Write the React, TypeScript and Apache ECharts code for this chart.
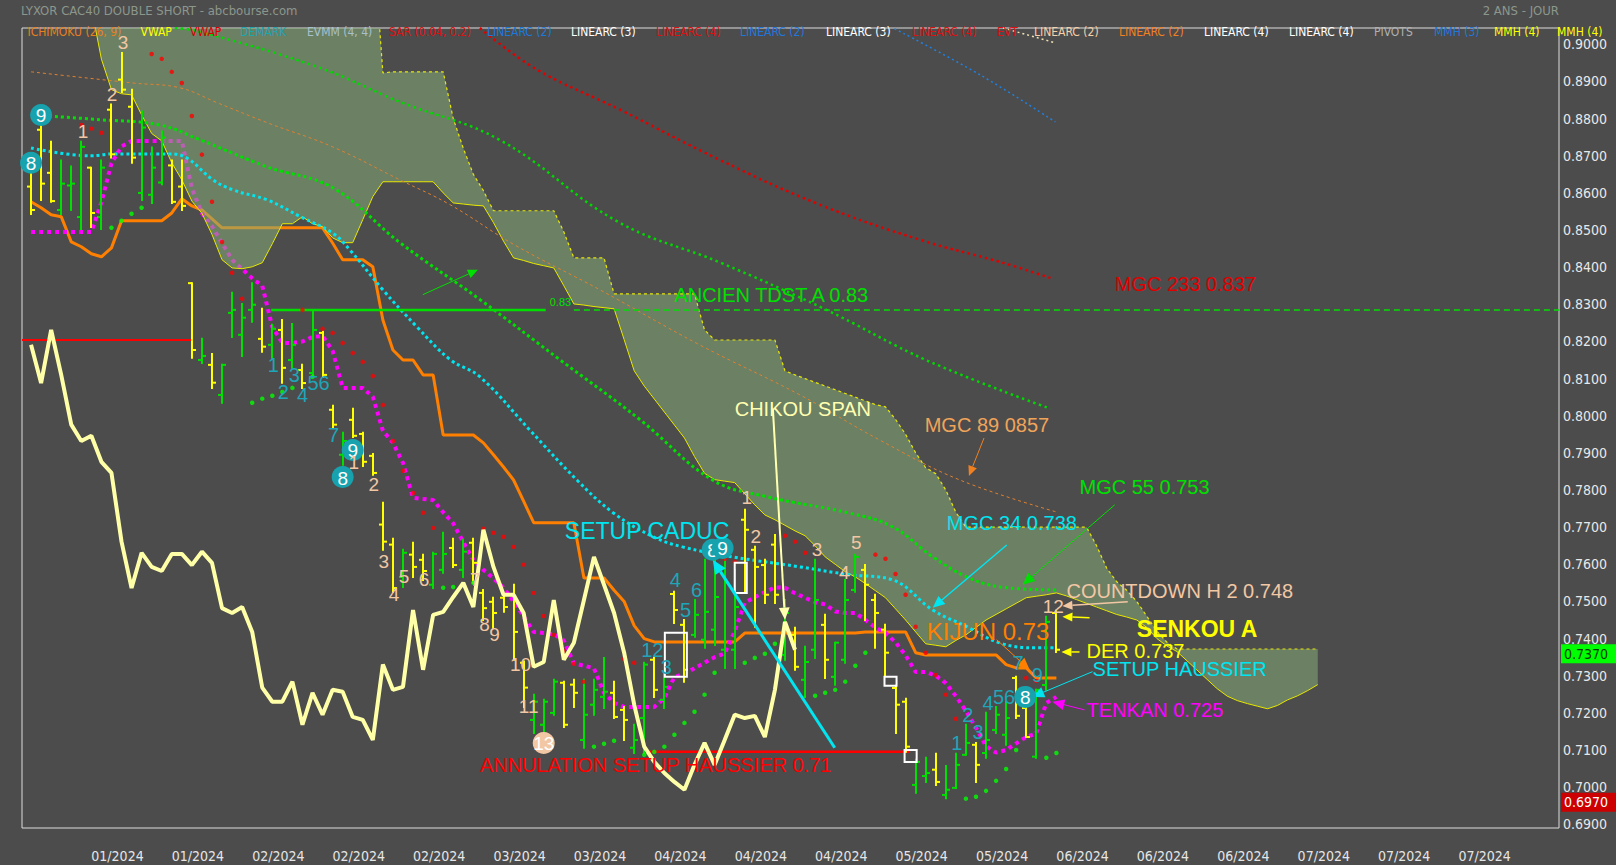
import React, { useEffect, useRef } from "react";
import * as echarts from "echarts";

const BG = "#4c4c4c";
const FONT = "'Liberation Sans', Arial, Helvetica, sans-serif";
const NARROW = "'Liberation Sans Narrow', 'Arial Narrow', 'DejaVu Sans Condensed', sans-serif";
const GREEN = "#00e000";
const YELLOW = "#ffff00";

// ---------- axis labels ----------
const xTickLabels = ["01/2024","01/2024","02/2024","02/2024","02/2024","03/2024","03/2024","04/2024","04/2024","04/2024","05/2024","05/2024","06/2024","06/2024","06/2024","07/2024","07/2024","07/2024"];
const yTickValues = [0.69,0.70,0.71,0.72,0.73,0.74,0.75,0.76,0.77,0.78,0.79,0.80,0.81,0.82,0.83,0.84,0.85,0.86,0.87,0.88,0.89,0.90];

// ---------- daily bars ----------
const opens = [0.8617,0.8770,0.8654,0.8554,0.8620,0.8535,0.8668,0.8535,0.8824,0.8905,0.8832,0.8600,0.8595,0.8628,0.8674,0.8617,0.8357,0.8150,0.8137,0.8056,0.8277,0.8218,0.8285,0.8207,0.8191,0.8231,0.8150,0.8123,0.8115,0.8223,0.8016,0.7895,0.7989,0.7951,0.7892,0.7707,0.7653,0.7566,0.7626,0.7612,0.7545,0.7585,0.7644,0.7585,0.7658,0.7523,0.7499,0.7510,0.7518,0.7335,0.7181,0.7168,0.7200,0.7281,0.7276,0.7127,0.7222,0.7243,0.7254,0.7208,0.7106,0.7186,0.7343,0.7235,0.7520,0.7437,0.7410,0.7397,0.7424,0.7370,0.7370,0.7720,0.7639,0.7598,0.7653,0.7356,0.7410,0.7289,0.7370,0.7437,0.7297,0.7343,0.7531,0.7585,0.7504,0.7424,0.7267,0.7230,0.7006,0.7030,0.7047,0.6979,0.6998,0.7087,0.7114,0.7092,0.7154,0.7141,0.7294,0.7213,0.7082,0.7275,0.7469];
const highs = [0.8676,0.8784,0.8738,0.8687,0.8671,0.8738,0.8668,0.8687,0.8838,0.8977,0.8878,0.8819,0.8722,0.8765,0.8687,0.8687,0.8357,0.8207,0.8166,0.8137,0.8331,0.8301,0.8357,0.8288,0.8245,0.8258,0.8247,0.8137,0.8285,0.8226,0.8027,0.7954,0.8019,0.7954,0.7897,0.7766,0.7669,0.7639,0.7658,0.7626,0.7631,0.7685,0.7669,0.7666,0.7669,0.7531,0.7510,0.7518,0.7545,0.7338,0.7249,0.7235,0.7289,0.7284,0.7289,0.7289,0.7289,0.7348,0.7284,0.7216,0.7168,0.7335,0.7348,0.7311,0.7526,0.7450,0.7504,0.7612,0.7612,0.7620,0.7585,0.7747,0.7647,0.7612,0.7679,0.7504,0.7429,0.7378,0.7612,0.7464,0.7389,0.7558,0.7626,0.7598,0.7518,0.7437,0.7273,0.7238,0.7074,0.7079,0.7090,0.7057,0.7090,0.7168,0.7119,0.7200,0.7216,0.7230,0.7297,0.7216,0.7262,0.7459,0.7475];
const lows = [0.8543,0.8581,0.8576,0.8543,0.8554,0.8503,0.8508,0.8503,0.8695,0.8872,0.8681,0.8581,0.8573,0.8623,0.8573,0.8554,0.8156,0.8142,0.8075,0.8035,0.8212,0.8161,0.8253,0.8172,0.8156,0.8089,0.8129,0.8075,0.8104,0.8104,0.7970,0.7868,0.7943,0.7865,0.7841,0.7639,0.7526,0.7539,0.7566,0.7558,0.7536,0.7577,0.7593,0.7566,0.7550,0.7450,0.7429,0.7472,0.7343,0.7216,0.7146,0.7141,0.7195,0.7162,0.7216,0.7106,0.7195,0.7213,0.7186,0.7127,0.7092,0.7092,0.7243,0.7213,0.7442,0.7284,0.7405,0.7375,0.7383,0.7321,0.7321,0.7523,0.7432,0.7496,0.7496,0.7343,0.7316,0.7243,0.7348,0.7294,0.7276,0.7335,0.7526,0.7450,0.7375,0.7302,0.7146,0.7095,0.6985,0.7014,0.7006,0.6970,0.6998,0.7087,0.7014,0.7079,0.7146,0.7114,0.7186,0.7135,0.7079,0.7262,0.7364];
const closes = [0.8554,0.8625,0.8578,0.8625,0.8625,0.8724,0.8546,0.8668,0.8704,0.8878,0.8695,0.8776,0.8668,0.8749,0.8576,0.8565,0.8177,0.8161,0.8089,0.8137,0.8285,0.8264,0.8299,0.8186,0.8234,0.8129,0.8191,0.8088,0.8231,0.8110,0.7976,0.7932,0.7946,0.7876,0.7846,0.7661,0.7536,0.7631,0.7593,0.7582,0.7628,0.7628,0.7598,0.7634,0.7604,0.7482,0.7469,0.7485,0.7418,0.7268,0.7230,0.7230,0.7284,0.7168,0.7254,0.7195,0.7262,0.7257,0.7189,0.7181,0.7127,0.7330,0.7262,0.7270,0.7477,0.7316,0.7464,0.7472,0.7512,0.7550,0.7485,0.7693,0.7593,0.7518,0.7518,0.7469,0.7324,0.7337,0.7504,0.7343,0.7389,0.7504,0.7620,0.7545,0.7469,0.7362,0.7222,0.7109,0.7068,0.7038,0.7014,0.6993,0.7060,0.7119,0.7060,0.7127,0.7195,0.7186,0.7192,0.7135,0.7262,0.7445,0.7370];

// ---------- ichimoku ----------
const kijun = [0.8576,0.8560,0.8541,0.8536,0.8468,0.8455,0.8436,0.8428,0.8452,0.8525,0.8525,0.8525,0.8525,0.8525,0.8546,0.8584,0.8565,0.8554,0.8530,0.8506,0.8506,0.8506,0.8506,0.8506,0.8506,0.8506,0.8506,0.8506,0.8506,0.8506,0.8465,0.8420,0.8420,0.8420,0.8401,0.8258,0.8177,0.8150,0.8150,0.8110,0.8110,0.7948,0.7948,0.7948,0.7948,0.7927,0.7895,0.7862,0.7827,0.7770,0.7712,0.7712,0.7712,0.7712,0.7712,0.7563,0.7563,0.7563,0.7530,0.7500,0.7435,0.7400,0.7391,0.7391,0.7391,0.7391,0.7391,0.7391,0.7391,0.7391,0.7391,0.7415,0.7415,0.7415,0.7415,0.7415,0.7415,0.7415,0.7415,0.7415,0.7415,0.7415,0.7415,0.7418,0.7418,0.7418,0.7418,0.7418,0.7362,0.7356,0.7356,0.7356,0.7356,0.7356,0.7356,0.7356,0.7356,0.7330,0.7321,0.7321,0.7294,0.7294,0.7294];
const tenkan = [0.8495,0.8495,0.8495,0.8495,0.8495,0.8495,0.8495,0.8575,0.8680,0.8725,0.8740,0.8740,0.8740,0.8740,0.8740,0.8740,0.8612,0.8545,0.8510,0.8465,0.8420,0.8395,0.8370,0.8350,0.8239,0.8196,0.8196,0.8200,0.8212,0.8215,0.8175,0.8075,0.8075,0.8075,0.8051,0.7960,0.7927,0.7873,0.7779,0.7776,0.7773,0.7740,0.7710,0.7660,0.7612,0.7585,0.7562,0.7537,0.7500,0.7460,0.7418,0.7415,0.7412,0.7395,0.7333,0.7327,0.7320,0.7254,0.7227,0.7216,0.7216,0.7216,0.7216,0.7240,0.7297,0.7305,0.7320,0.7335,0.7350,0.7360,0.7420,0.7496,0.7512,0.7525,0.7538,0.7537,0.7522,0.7510,0.7498,0.7492,0.7473,0.7469,0.7469,0.7450,0.7430,0.7415,0.7390,0.7355,0.7310,0.7310,0.7300,0.7280,0.7245,0.7205,0.7160,0.7110,0.7093,0.7100,0.7118,0.7135,0.7145,0.7227,0.7243];
const cloudStart = 6;
const senkouA = [0.9100,0.8960,0.8878,0.8867,0.8864,0.8810,0.8760,0.8740,0.8681,0.8635,0.8578,0.8545,0.8488,0.8420,0.8398,0.8396,0.8401,0.8412,0.8463,0.8517,0.8517,0.8536,0.8517,0.8509,0.8479,0.8466,0.8466,0.8528,0.8590,0.8630,0.8630,0.8630,0.8630,0.8630,0.8630,0.8600,0.8573,0.8570,0.8567,0.8565,0.8520,0.8470,0.8425,0.8418,0.8410,0.8404,0.8398,0.8350,0.8301,0.8298,0.8294,0.8291,0.8288,0.8205,0.8121,0.8080,0.8045,0.8010,0.7975,0.7940,0.7890,0.7845,0.7828,0.7824,0.7820,0.7790,0.7760,0.7733,0.7720,0.7705,0.7690,0.7677,0.7650,0.7620,0.7600,0.7580,0.7566,0.7548,0.7529,0.7510,0.7480,0.7450,0.7418,0.7386,0.7382,0.7378,0.7395,0.7410,0.7430,0.7450,0.7465,0.7480,0.7495,0.7510,0.7514,0.7518,0.7523,0.7515,0.7505,0.7495,0.7485,0.7475,0.7465,0.7458,0.7450,0.7430,0.7400,0.7380,0.7365,0.7340,0.7315,0.7290,0.7265,0.7245,0.7233,0.7225,0.7218,0.7211,0.7220,0.7235,0.7246,0.7260,0.7276];
const senkouB = [0.9300,0.9300,0.9300,0.9300,0.9300,0.9300,0.9300,0.9300,0.9300,0.9300,0.9300,0.9300,0.9300,0.9300,0.9300,0.9300,0.9300,0.9300,0.9300,0.9300,0.9300,0.9300,0.9300,0.9300,0.9300,0.9300,0.9300,0.9300,0.9300,0.8923,0.8926,0.8926,0.8926,0.8926,0.8926,0.8926,0.8800,0.8720,0.8650,0.8606,0.8552,0.8552,0.8552,0.8552,0.8552,0.8552,0.8552,0.8495,0.8425,0.8425,0.8425,0.8425,0.8328,0.8328,0.8328,0.8328,0.8328,0.8328,0.8328,0.8328,0.8328,0.8231,0.8204,0.8204,0.8204,0.8204,0.8204,0.8204,0.8204,0.8121,0.8110,0.8100,0.8090,0.8080,0.8070,0.8060,0.8050,0.8040,0.8030,0.8024,0.7990,0.7950,0.7900,0.7860,0.7844,0.7800,0.7740,0.7700,0.7700,0.7700,0.7700,0.7700,0.7700,0.7700,0.7700,0.7700,0.7700,0.7700,0.7700,0.7700,0.7650,0.7590,0.7553,0.7530,0.7500,0.7460,0.7420,0.7390,0.7372,0.7372,0.7372,0.7372,0.7372,0.7372,0.7372,0.7372,0.7372,0.7372,0.7372,0.7372,0.7372,0.7372,0.7372];
const chikouShift = 26;

// ---------- parabolic SAR ----------
const sarAbove = [[5,0.8783],[6,0.8773],[7,0.8762],[12,0.8974],[13,0.8961],[14,0.8926],[15,0.8896],[16,0.8807],[17,0.8703],[18,0.8576],[19,0.8468],[20,0.8385],[21,0.8315],[27,0.8285],[29,0.8234],[30,0.8223],[31,0.8196],[32,0.8169],[33,0.8145],[34,0.8107],[35,0.8029],[36,0.7932],[37,0.7852],[38,0.7792],[39,0.7739],[40,0.7698],[45,0.7696],[46,0.7685],[47,0.7674],[48,0.7647],[49,0.7599],[50,0.7523],[51,0.7461],[52,0.7410],[53,0.7367],[54,0.7332],[55,0.7284],[59,0.7345],[60,0.7335],[69,0.7615],[70,0.7607],[75,0.7677],[76,0.7661],[77,0.7631],[84,0.7626],[85,0.7615],[86,0.7574],[87,0.7518],[88,0.7432],[89,0.7362],[90,0.7302],[91,0.7249],[92,0.7184],[99,0.7294],[100,0.7286]];
const sarBelow = [[8,0.8506],[9,0.8525],[10,0.8544],[11,0.8560],[22,0.8035],[23,0.8046],[24,0.8054],[25,0.8064],[26,0.8075],[28,0.8105],[41,0.7537],[42,0.7539],[43,0.7545],[44,0.7550],[56,0.7109],[57,0.7117],[58,0.7125],[61,0.7087],[62,0.7095],[63,0.7109],[64,0.7141],[65,0.7173],[66,0.7203],[67,0.7249],[68,0.7308],[71,0.7335],[72,0.7348],[73,0.7359],[74,0.7386],[78,0.7246],[79,0.7254],[80,0.7262],[81,0.7284],[82,0.7327],[83,0.7362],[93,0.6969],[94,0.6974],[95,0.6990],[96,0.7017],[97,0.7049],[98,0.7100],[101,0.7079],[102,0.7092]];

// ---------- moving averages (MGC), read at points ----------
const mgc233 = [[44.65,0.9044],[50.2,0.8934],[58.6,0.8824],[68.5,0.8689],[78.5,0.8568],[88.4,0.8474],[96.4,0.8414],[101.4,0.8371]];
const mgc144 = [[14.3,0.9044],[16.5,0.9036],[28.5,0.8939],[36.7,0.8845],[46.6,0.8743],[58.4,0.8522],[68.6,0.8412],[78.9,0.8288],[89.2,0.8148],[101.4,0.8019]];
const mgc89 = [[0,0.8926],[10.1,0.8896],[14.8,0.8883],[18.5,0.8843],[23.5,0.8789],[30.0,0.8724],[36.7,0.8635],[41.7,0.8568],[48.1,0.8460],[56.6,0.8339],[66.5,0.8191],[76.5,0.8056],[84.4,0.7935],[92.4,0.7827],[102,0.7741]];
const mgc55 = [[0,0.8810],[6.9,0.8797],[12.8,0.8783],[16.8,0.8743],[23.5,0.8670],[30.0,0.8614],[36.7,0.8466],[44.7,0.8312],[52.6,0.8151],[60.6,0.7989],[67.8,0.7827],[73.2,0.7782],[81.4,0.7738],[85.7,0.7701],[89.7,0.7620],[93.1,0.7566],[96.4,0.7539],[102,0.7531]];
const mgc34 = [[0,0.8721],[5.9,0.8700],[8.2,0.8705],[13.8,0.8705],[15.5,0.8694],[18.1,0.8635],[20.1,0.8608],[23.5,0.8581],[26.8,0.8536],[30.0,0.8492],[31.7,0.8447],[35.0,0.8339],[38.4,0.8239],[41.7,0.8151],[44.65,0.8105],[49.6,0.7962],[54.3,0.7827],[57.9,0.7739],[61.9,0.7674],[64.8,0.7647],[69.8,0.7620],[76.5,0.7593],[81.4,0.7572],[85.7,0.7558],[89.7,0.7477],[93.1,0.7432],[96.4,0.7388],[100,0.7375],[102,0.7375]];
const linearc2 = [[85.9,0.9042],[94.4,0.8918],[101.9,0.8791]];
const linearc2b = [[96.7,0.9044],[101.9,0.9004]];

// ---------- horizontal levels ----------
const oldLevel = { from: -0.9, to: 16, value: 0.8204 };
const tdstA = { from: 23.9, solidTo: 51.2, dashFrom: 54, to: 152, value: 0.8285 };
const cancelLevel = { from: 61.05, to: 87.4, value: 0.7095 };

// ---------- annotations ----------
const peachCounts = [[9.15,0.9004,"3"],[8.05,0.8864,"2"],[5.17,0.8764,"1"],[32.1,0.7873,"1"],[34.1,0.7814,"2"],[35.1,0.7607,"3"],[36.1,0.7518,"4"],[37.1,0.7566,"5"],[39.1,0.7558,"6"],[44.2,0.7558,"7"],[45.1,0.7437,"8"],[46.1,0.7410,"9"],[48.7,0.7329,"10"],[49.5,0.7216,"11"],[71.2,0.7779,"1"],[72.1,0.7674,"2"],[78.2,0.7639,"3"],[80.9,0.7577,"4"],[82.1,0.7658,"5"],[101.7,0.7486,"12"]];
const tealCounts = [[24.1,0.8137,"1"],[25.1,0.8064,"2"],[26.2,0.8110,"3"],[27.0,0.8056,"4"],[28.6,0.8089,"56"],[30.1,0.7949,"7"],[61.8,0.7370,"12"],[63.2,0.7324,"3"],[64.1,0.7558,"4"],[65.1,0.7477,"5"],[66.2,0.7531,"6"],[92.1,0.7119,"1"],[93.2,0.7195,"2"],[94.2,0.7149,"3"],[95.2,0.7227,"4"],[96.8,0.7243,"56"],[98.2,0.7335,"7"],[100.1,0.7302,"9"]];
const circles = [[1.0,0.8810,"9","#17a2ad"],[0,0.8681,"8","#17a2ad"],[32.0,0.7908,"9","#17a2ad"],[31.0,0.7835,"8","#17a2ad"],[67.8,0.7639,"8","#17a2ad"],[68.8,0.7644,"9","#17a2ad"],[98.9,0.7243,"8","#17a2ad"],[51.0,0.7119,"13","#f2c7a4"]];
const boxes = [[63.05,65.24,0.7416,0.7297],[70.0,71.2,0.7604,0.7523],[84.9,86.1,0.7297,0.7273],[86.9,88.1,0.7100,0.7068]];
const labels = [
  ["SETUP CADUC",53.1,0.7690,"#00e5f0",23,false],
  ["ANCIEN TDST A 0.83",64.0,0.8326,"#00e000",20,false],
  ["MGC 233 0.837",107.8,0.8355,"#e00000",20,false],
  ["CHIKOU SPAN",70.0,0.8019,"#ffffb0",20,false],
  ["MGC 89 0857",88.9,0.7976,"#f0a45a",20,false],
  ["MGC 55 0.753",104.3,0.7809,"#00e000",20,false],
  ["MGC 34 0.738",91.1,0.7712,"#00e5f0",20,false],
  ["COUNTDOWN H 2 0.748",103.0,0.7529,"#f2c7a4",20,false],
  ["SENKOU A",110.0,0.7426,"#ffff00",23,true],
  ["KIJUN 0.73",89.1,0.7418,"#ff8000",24,false],
  ["DER 0.737",105.0,0.7367,"#ffff00",20,false],
  ["SETUP HAUSSIER",105.6,0.7319,"#00e5f0",20,false],
  ["TENKAN 0.725",105.0,0.7208,"#ff00ff",20,false],
  ["ANNULATION SETUP HAUSSIER 0.71",44.65,0.7060,"#ff0000",20,false],
  ["0.83",51.6,0.8307,"#00e000",11,false]
];
const arrows = [
  [38.98,0.8326,44.45,0.8393,"#00e000",1,10],
  [79.95,0.7106,67.82,0.7612,"#00e5f0",3,14],
  [73.8,0.8017,75.0,0.7451,"#ffffb0",2,12],
  [94.8,0.7940,93.3,0.7838,"#f08020",1,10],
  [97.06,0.7652,89.7,0.7483,"#00e5f0",1.5,12],
  [107.8,0.7760,98.65,0.7545,"#00e000",1,12],
  [109.1,0.7499,102.6,0.7488,"#f2c7a4",1.5,10],
  [105.3,0.7456,102.6,0.7459,"#ffff00",1.5,10],
  [104.3,0.7364,102.5,0.7364,"#ffff00",1.5,10],
  [96.06,0.7397,99.34,0.7316,"#ff8000",1,12],
  [105.6,0.7311,99.6,0.7243,"#00e5f0",1,12],
  [104.8,0.7208,101.6,0.7230,"#ff00ff",1,12]
];
const priceTags = [[0.7370,"#00ff00","#0a3a0a"],[0.6970,"#cc0000","#ffffff"]];

// ---------- header / legend ----------
const title = "LYXOR CAC40 DOUBLE SHORT - abcbourse.com";
const period = "2 ANS - JOUR";
const legendItems = [
  ["ICHIMOKU (26, 9)","#e8801e",27.5],["VWAP","#ffff00",140.5],["VWAP","#dd0000",190],["DEMARK","#1fa5b0",240],["EVMM (4, 4)","#a8c0cc",307],["SAR (0.04, 0.2)","#dd1111",389],["LINEARC (2)","#1e78dc",487],["LINEARC (3)","#ffffff",571],["LINEARC (4)","#dd1111",656],["LINEARC (2)","#1e78dc",740],["LINEARC (3)","#ffffff",826],["LINEARC (4)","#dd1111",912],["EVT","#dd1111",997],["LINEARC (2)","#f5d0a8",1034],["LINEARC (2)","#f08020",1119],["LINEARC (4)","#ffffff",1204],["LINEARC (4)","#ffffff",1289],["PIVOTS","#b0b0b0",1374],["MMH (3)","#1e78dc",1434],["MMH (4)","#ffff00",1494],["MMH (4)","#ffff00",1557]
];

const X_MIN = -0.9, X_MAX = 152, Y_MIN = 0.689, Y_MAX = 0.9044;
const xLabelStart = 8.6, xLabelStep = 8;

function arrowChildren(p1: number[], p2: number[], color: string, width: number, head: number) {
  const dx = p2[0] - p1[0], dy = p2[1] - p1[1];
  const len = Math.hypot(dx, dy) || 1;
  const ux = dx / len, uy = dy / len;
  const hw = head * 0.45;
  const bx = p2[0] - ux * head, by = p2[1] - uy * head;
  return [
    { type: "line", shape: { x1: p1[0], y1: p1[1], x2: bx, y2: by }, style: { stroke: color, lineWidth: width } },
    { type: "polygon", shape: { points: [[p2[0], p2[1]], [bx - uy * hw, by + ux * hw], [bx + uy * hw, by - ux * hw]] }, style: { fill: color } }
  ];
}

function lineSeries(data: number[][], color: string, width: number, type: any, z: number, smooth = 0) {
  return {
    type: "line", data, showSymbol: false, silent: true, z, smooth,
    lineStyle: { color, width, type, cap: "butt" }
  };
}

function buildOption() {
  const ohlc = opens.map((o, i) => [i, o, highs[i], lows[i], closes[i]]);
  const chikou = closes.slice(chikouShift).map((c, k) => [k, c]);
  const cloudA = senkouA.map((v, k) => [cloudStart + k, v]);
  const cloudB = senkouB.map((v, k) => [cloudStart + k, v]);

  const series: any[] = [
    lineSeries(kijun.map((v, i) => [i, v]), "#ff8000", 3, "solid", 1),
    lineSeries(tenkan.map((v, i) => [i, v]), "#ff00ff", 4, [4, 4], 1),
    {
      type: "custom", clip: true, z: 2, silent: true,
      data: cloudA.map((p, k) => [p[0], p[1], senkouB[k]]),
      encode: { x: 0, y: 1 },
      renderItem: (params: any, api: any) => {
        if (params.dataIndex !== 0) return null;
        const pa = cloudA.map((p) => api.coord(p));
        const pb = cloudB.map((p) => api.coord(p)).reverse();
        return { type: "polygon", shape: { points: pa.concat(pb) }, style: { fill: "rgba(135,172,120,0.55)" } };
      }
    },
    lineSeries(cloudA, "#e8e800", 1, "solid", 3),
    lineSeries(cloudB, "#e8e800", 1.2, [3, 3], 3),
    lineSeries(mgc233, "#e00000", 2.5, [2.5, 3.5], 4, 0.4),
    lineSeries(mgc144, "#00d800", 2.5, [2.5, 3.5], 4, 0.4),
    lineSeries(mgc89, "#e08030", 1, [3, 3], 4, 0.4),
    lineSeries(mgc55, "#00e000", 3, [3, 3], 4, 0.4),
    lineSeries(mgc34, "#00e5f0", 3, [3, 3], 4, 0.4),
    lineSeries(linearc2, "#2080e0", 1.5, [2, 3], 4, 0.4),
    lineSeries(linearc2b, "#f0e0b0", 1.5, [2, 3], 4),
    lineSeries([[oldLevel.from, oldLevel.value], [oldLevel.to, oldLevel.value]], "#ff0000", 2, "solid", 5),
    lineSeries([[tdstA.from, tdstA.value], [tdstA.solidTo, tdstA.value]], "#00e000", 2.5, "solid", 5),
    lineSeries([[tdstA.dashFrom, tdstA.value], [tdstA.to, tdstA.value]], "#00e000", 1.5, [6, 4], 5),
    lineSeries([[cancelLevel.from, cancelLevel.value], [cancelLevel.to, cancelLevel.value]], "#ff0000", 2.5, "solid", 5),
    {
      type: "custom", z: 6, silent: true, clip: true,
      data: ohlc,
      encode: { x: 0, y: [1, 2, 3, 4] },
      renderItem: (params: any, api: any) => {
        const i = api.value(0), o = api.value(1), h = api.value(2), l = api.value(3), c = api.value(4);
        const pH = api.coord([i, h]), pL = api.coord([i, l]), pO = api.coord([i, o]), pC = api.coord([i, c]);
        const color = c >= o ? GREEN : YELLOW;
        const x = Math.round(pH[0]);
        return {
          type: "group",
          children: [
            { type: "line", shape: { x1: x, y1: pH[1] - 1, x2: x, y2: pL[1] + 1 }, style: { stroke: color, lineWidth: 2 } },
            { type: "line", shape: { x1: x - 4, y1: pO[1], x2: x, y2: pO[1] }, style: { stroke: color, lineWidth: 2 } },
            { type: "line", shape: { x1: x, y1: pC[1], x2: x + 4, y2: pC[1] }, style: { stroke: color, lineWidth: 2 } }
          ]
        };
      }
    },
    { type: "scatter", data: sarAbove, symbol: "circle", symbolSize: 4.5, itemStyle: { color: "#ff0000" }, z: 7, silent: true },
    { type: "scatter", data: sarBelow, symbol: "circle", symbolSize: 4.5, itemStyle: { color: "#00ff00" }, z: 7, silent: true },
    lineSeries(chikou, "#ffffa8", 4, "solid", 8),
    {
      type: "custom", z: 9, silent: true, clip: false,
      data: boxes.map((b) => [b[0], b[2]]),
      encode: { x: 0, y: 1 },
      renderItem: (params: any, api: any) => {
        const b = boxes[params.dataIndex];
        const p1 = api.coord([b[0], b[2]]), p2 = api.coord([b[1], b[3]]);
        return { type: "rect", shape: { x: p1[0], y: p1[1], width: p2[0] - p1[0], height: p2[1] - p1[1] }, style: { fill: "none", stroke: "#ffffff", lineWidth: 2 } };
      }
    },
    {
      type: "custom", z: 10, silent: true, clip: false,
      data: arrows.map((a) => [a[0], a[1]]),
      encode: { x: 0, y: 1 },
      renderItem: (params: any, api: any) => {
        const a: any = arrows[params.dataIndex];
        const p1 = api.coord([a[0], a[1]]), p2 = api.coord([a[2], a[3]]);
        return { type: "group", children: arrowChildren(p1, p2, a[4], a[5], a[6]) };
      }
    },
    {
      type: "custom", z: 11, silent: true, clip: false,
      data: circles.map((c) => [c[0], c[1]]),
      encode: { x: 0, y: 1 },
      renderItem: (params: any, api: any) => {
        const c: any = circles[params.dataIndex];
        const p = api.coord([c[0], c[1]]);
        return {
          type: "group",
          children: [
            { type: "circle", shape: { cx: p[0], cy: p[1], r: 11 }, style: { fill: c[3] } },
            { type: "text", x: p[0], y: p[1] + 1, style: { text: c[2], fill: "#ffffff", fontSize: 19, fontFamily: FONT, align: "center", verticalAlign: "middle" } }
          ]
        };
      }
    },
    {
      type: "custom", z: 11, silent: true, clip: false,
      data: peachCounts.map((c) => [c[0], c[1]]),
      encode: { x: 0, y: 1 },
      renderItem: (params: any, api: any) => {
        const c: any = peachCounts[params.dataIndex];
        const p = api.coord([c[0], c[1]]);
        return { type: "text", x: p[0], y: p[1], style: { text: c[2], fill: "#f2c7a4", fontSize: 19, fontFamily: FONT, align: "center", verticalAlign: "middle" } };
      }
    },
    {
      type: "custom", z: 11, silent: true, clip: false,
      data: tealCounts.map((c) => [c[0], c[1]]),
      encode: { x: 0, y: 1 },
      renderItem: (params: any, api: any) => {
        const c: any = tealCounts[params.dataIndex];
        const p = api.coord([c[0], c[1]]);
        return { type: "text", x: p[0], y: p[1], style: { text: c[2], fill: "#1fa5b8", fontSize: 20, fontFamily: FONT, align: "center", verticalAlign: "middle" } };
      }
    },
    {
      type: "custom", z: 12, silent: true, clip: false,
      data: labels.map((l: any) => [l[1], l[2]]),
      encode: { x: 0, y: 1 },
      renderItem: (params: any, api: any) => {
        const l: any = labels[params.dataIndex];
        const p = api.coord([l[1], l[2]]);
        return { type: "text", x: p[0], y: p[1], style: { text: l[0], fill: l[3], fontSize: l[4], fontWeight: l[5] ? "bold" : "normal", fontFamily: FONT, align: "left", verticalAlign: "middle" } };
      }
    },
    {
      type: "custom", z: 12, silent: true, clip: false,
      data: priceTags.map((t: any) => [X_MAX, t[0]]),
      encode: { x: 0, y: 1 },
      renderItem: (params: any, api: any) => {
        const t: any = priceTags[params.dataIndex];
        const p = api.coord([X_MAX, t[0]]);
        const cy = p[1] + 4;
        return {
          type: "group",
          children: [
            { type: "rect", shape: { x: p[0] + 2, y: cy - 9.5, width: 60, height: 19 }, style: { fill: t[1] } },
            { type: "text", x: p[0] + 5, y: cy, style: { text: t[0].toFixed(4), fill: t[2], fontSize: 14, fontFamily: NARROW, align: "left", verticalAlign: "middle" } }
          ]
        };
      }
    }
  ];

  const graphic: any[] = [
    { type: "text", x: 21, y: 10, z: 20, style: { text: title, fill: "#8c978c", fontSize: 13, fontFamily: NARROW, verticalAlign: "middle" } },
    { type: "text", x: 1559, y: 10, z: 20, style: { text: period, fill: "#8c978c", fontSize: 13, fontFamily: NARROW, align: "right", verticalAlign: "middle" } }
  ];
  legendItems.forEach((it: any) => {
    graphic.push({ type: "text", x: it[2], y: 32, z: 20, style: { text: it[0], fill: it[1], fontSize: 12, fontFamily: NARROW, verticalAlign: "middle" } });
  });

  return {
    animation: false,
    backgroundColor: BG,
    grid: { left: 22, top: 28, width: 1537, height: 800, show: true, borderColor: "#dcdcdc", borderWidth: 1, backgroundColor: "transparent", containLabel: false },
    xAxis: {
      type: "value", min: X_MIN, max: X_MAX,
      splitLine: { show: false }, axisLine: { show: false }, axisTick: { show: false },
      axisLabel: {
        customValues: xTickLabels.map((_, k) => xLabelStart + xLabelStep * k),
        formatter: (v: number) => xTickLabels[Math.round((v - xLabelStart) / xLabelStep)] || "",
        color: "#e6e6e6", fontSize: 14, fontFamily: NARROW, margin: 21
      }
    },
    yAxis: {
      type: "value", position: "right", min: Y_MIN, max: Y_MAX, scale: true,
      splitLine: { show: false }, axisLine: { show: false }, axisTick: { show: false },
      axisLabel: {
        customValues: yTickValues,
        formatter: (v: number) => v.toFixed(4),
        color: "#e8e8e8", fontSize: 14, fontFamily: NARROW, margin: 4, align: "left"
      }
    },
    graphic,
    series
  };
}

export default function App() {
  const ref = useRef<HTMLDivElement>(null);
  useEffect(() => {
    const chart = echarts.init(ref.current as HTMLDivElement, null, { renderer: "svg", width: 1616, height: 865 });
    chart.setOption(buildOption() as any);
    return () => chart.dispose();
  }, []);
  return <div ref={ref} style={{ position: "absolute", left: 0, top: 0, width: 1616, height: 865, background: BG }} />;
}
